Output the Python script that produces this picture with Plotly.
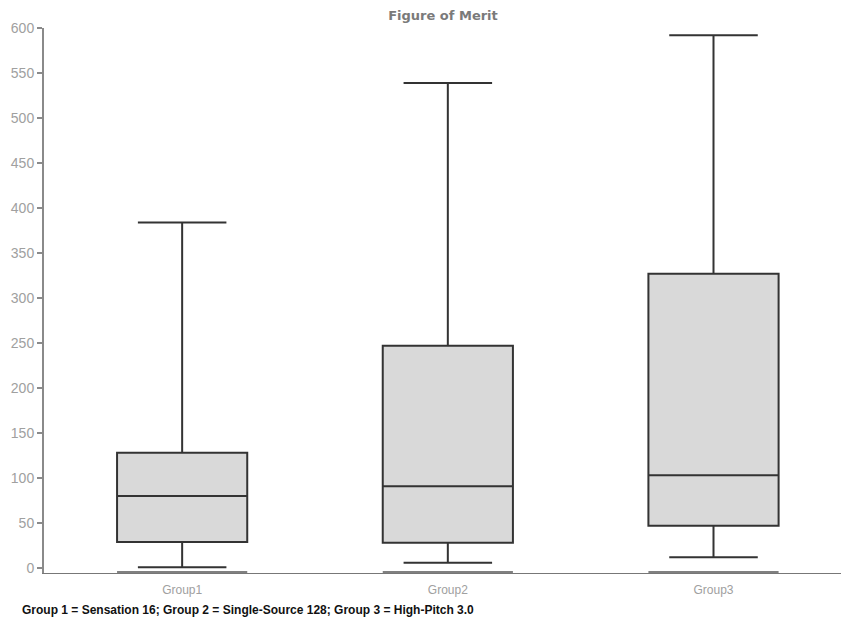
import plotly.graph_objects as go

categories = ["Group1", "Group2", "Group3"]
lower_whisker = [1, 6, 12]
q1_values = [29, 28, 47]
median_values = [80, 91, 103]
q3_values = [128, 247, 327]
upper_whisker = [384, 539, 592]
y_ticks = list(range(0, 601, 50))

# page has an 8px body margin; compensate so the chart lands at the same pixels
W, H, OFF = 841, 613, 8

fig = go.Figure()
fig.add_trace(go.Box(
    x=categories,
    q1=q1_values,
    median=median_values,
    q3=q3_values,
    lowerfence=lower_whisker,
    upperfence=upper_whisker,
    fillcolor="#d9d9d9",
    line=dict(color="#333333", width=2),
    width=0.49,
    whiskerwidth=0.68,
    boxpoints=False,
    hoverinfo="skip",
    showlegend=False,
))

# thick grey base bars under each box
for i, c in enumerate(categories):
    fig.add_shape(type="line", xref="x", yref="y",
                  x0=i - 0.245, x1=i + 0.245, y0=-5.5, y1=-5.5,
                  line=dict(color="#808080", width=4))

fig.update_layout(
    width=W, height=H,
    margin=dict(l=44 - OFF, r=0, t=28 - OFF, b=H - (573 - OFF), autoexpand=False),
    paper_bgcolor="white", plot_bgcolor="white",
    title=dict(text="<b>Figure of Merit</b>", x=(443 - OFF) / W, xanchor="center",
               y=1 - (15 - OFF) / H, yanchor="middle",
               font=dict(family="DejaVu Sans", size=13, color="#7a7a7a")),
    xaxis=dict(range=[-0.52, 2.51], showgrid=False, zeroline=False, automargin=False,
               showline=True, linecolor="#777777", linewidth=1,
               ticks="", ticklabelstandoff=6,
               tickfont=dict(family="Liberation Sans", size=12, color="#a0a0a0")),
    yaxis=dict(range=[-5.5, 600], tickvals=y_ticks, showgrid=False, zeroline=False, automargin=False,
               showline=True, linecolor="#8a8a8a", linewidth=2,
               ticks="outside", ticklen=5, tickwidth=2, tickcolor="#8a8a8a",
               tickfont=dict(family="Liberation Sans", size=14, color="#a0a0a0")),
    annotations=[dict(
        text="<b>Group 1 = Sensation 16; Group 2 = Single-Source 128; Group 3 = High-Pitch 3.0</b>",
        xref="paper", yref="paper", x=(20 - 44) / 805, y=-(610 - 573) / 545,
        xanchor="left", yanchor="middle", showarrow=False,
        font=dict(family="Liberation Sans", size=12, color="#111111"))],
)

fig.write_html("out.html")
